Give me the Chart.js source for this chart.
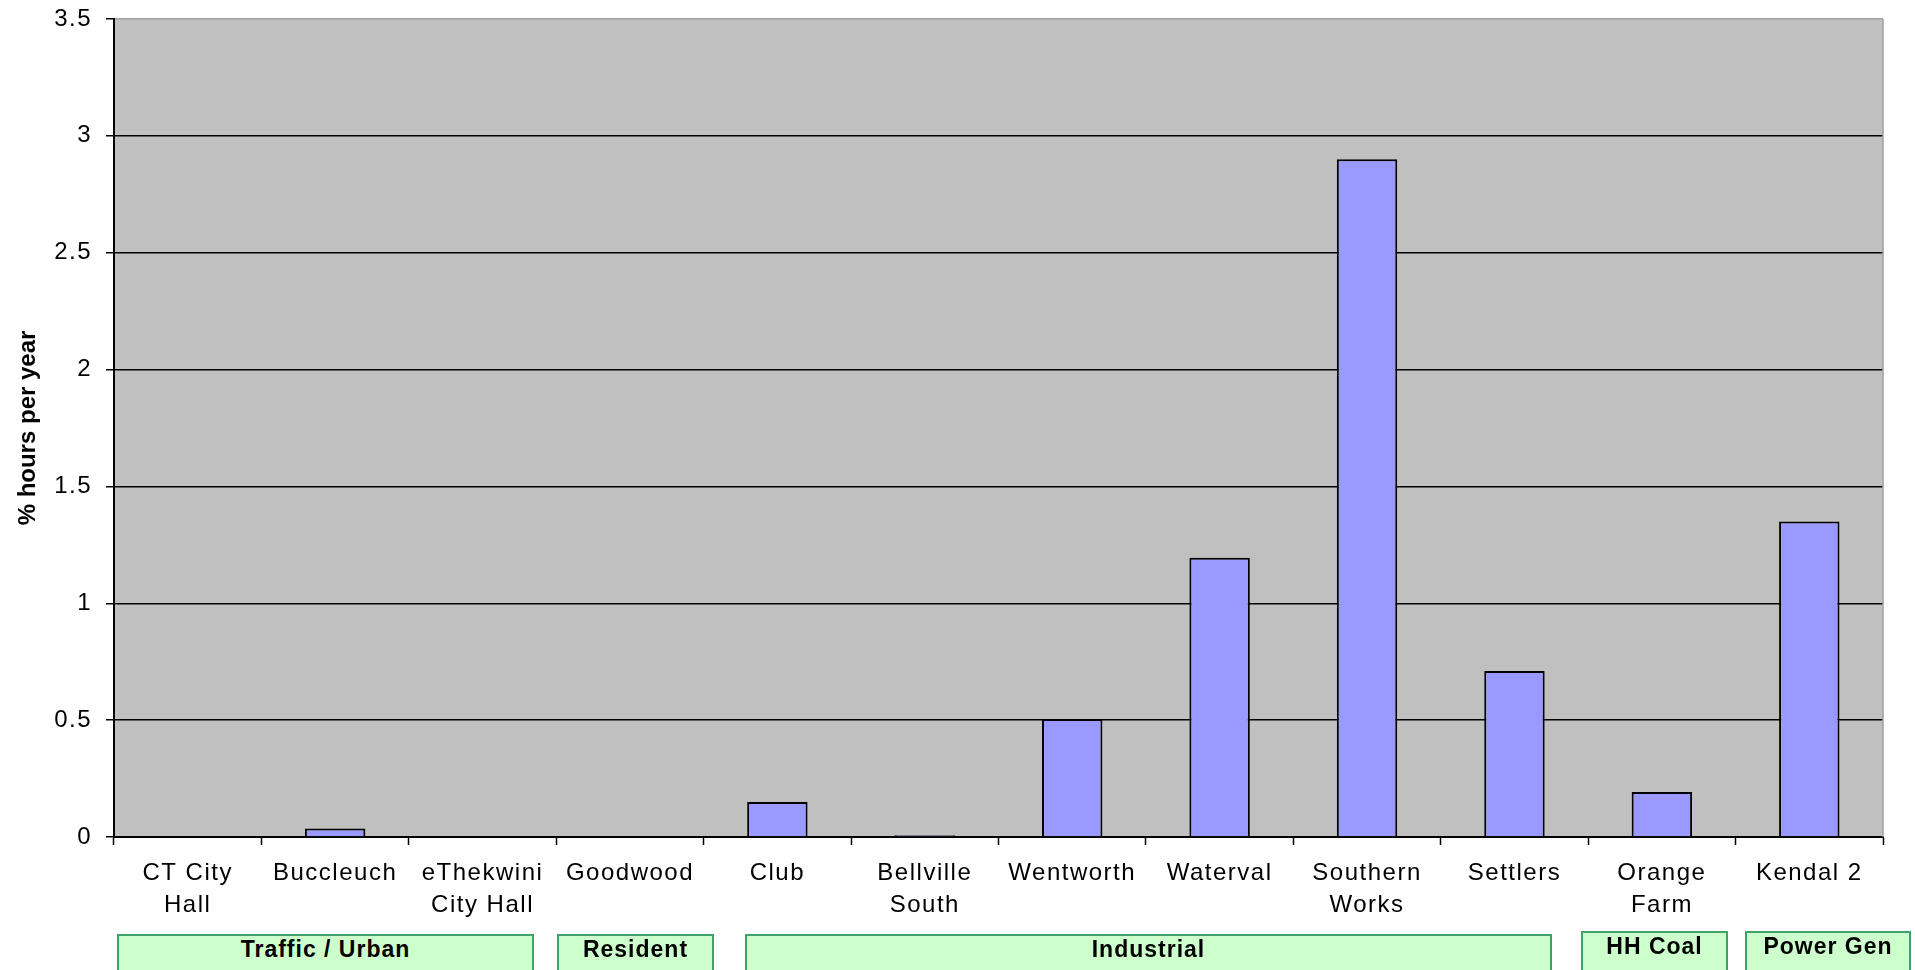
<!DOCTYPE html>
<html><head><meta charset="utf-8">
<script src="https://cdn.jsdelivr.net/npm/chart.js@4"></script>
<style>
html,body{margin:0;padding:0;background:#fff;overflow:hidden}
#wrap{position:relative;width:1915px;height:970px}
canvas{position:absolute;left:0;top:0}
.grp{position:absolute;box-sizing:border-box;background:#CCFFCC;border:2px solid #3FA36B;font:bold 23px "Liberation Sans",Arial,sans-serif;color:#000;text-align:center;line-height:26px;height:70px;letter-spacing:1px;white-space:nowrap}
</style></head><body>
<div id="wrap">
<canvas id="c" width="1915" height="970"></canvas>
<div class="grp" style="left:117px;top:934px;width:417px">Traffic / Urban</div>
<div class="grp" style="left:557px;top:934px;width:157px">Resident</div>
<div class="grp" style="left:745px;top:934px;width:807px">Industrial</div>
<div class="grp" style="left:1581px;top:931px;width:147px">HH Coal</div>
<div class="grp" style="left:1745px;top:931px;width:166px">Power Gen</div>
</div>
<script>
const categories = [
  ['CT City','Hall'], 'Buccleuch', ['eThekwini','City Hall'], 'Goodwood', 'Club',
  ['Bellville','South'], 'Wentworth', 'Waterval', ['Southern','Works'], 'Settlers',
  ['Orange','Farm'], 'Kendal 2'
];
const values = [0, 0.036, 0, 0, 0.15, 0.008, 0.505, 1.195, 2.9, 0.71, 0.193, 1.35];
const yMin = 0, yMax = 3.5, yStep = 0.5;
const yTitle = '% hours per year';

Chart.defaults.font.family = '"Liberation Sans", Arial, sans-serif';
Chart.defaults.color = '#000';

const plotBg = {
  id: 'plotBg',
  beforeUpdate(chart) { chart.ctx.letterSpacing = '1.5px'; },
  beforeDraw(chart) {
    const {ctx, chartArea: a} = chart;
    ctx.letterSpacing = '1.5px';
    ctx.save();
    ctx.fillStyle = '#C0C0C0';
    ctx.fillRect(a.left, a.top, a.right - a.left, a.bottom - a.top);
    ctx.restore();
  },
  afterDraw(chart) {
    const {ctx, chartArea: a} = chart;
    ctx.save();
    ctx.strokeStyle = '#A0A0A0';
    ctx.lineWidth = 1.5;
    ctx.beginPath();
    ctx.moveTo(a.right, a.top);
    ctx.lineTo(a.right, a.bottom);
    ctx.stroke();
    // y-axis title
    ctx.letterSpacing = '0px';
    ctx.translate(28, (a.top + a.bottom) / 2);
    ctx.rotate(-Math.PI / 2);
    ctx.font = 'bold 24px "Liberation Sans", Arial, sans-serif';
    ctx.fillStyle = '#000';
    ctx.textAlign = 'center';
    ctx.textBaseline = 'middle';
    ctx.fillText(yTitle, 0, 0);
    ctx.restore();
  }
};

new Chart(document.getElementById('c'), {
  type: 'bar',
  data: {
    labels: categories,
    datasets: [{
      data: values,
      backgroundColor: '#9999FF',
      borderColor: '#000',
      borderWidth: 2,
      barPercentage: 0.41,
      categoryPercentage: 1
    }]
  },
  options: {
    responsive: false,
    animation: false,
    devicePixelRatio: 1,
    layout: {padding: {top: 19, right: 32, left: 0, bottom: 0}},
    plugins: {legend: {display: false}, tooltip: {enabled: false}},
    scales: {
      x: {
        offset: true,
        grid: {display: true, drawOnChartArea: false, drawTicks: true, tickLength: 8, tickColor: '#000', tickWidth: 1.5, offset: true},
        border: {display: true, color: '#000', width: 2},
        ticks: {color: '#000', font: {size: 24, lineHeight: '32px'}, padding: 12, maxRotation: 0, autoSkip: false},
        afterFit(s) { s.height = 133; s.paddingLeft = 0; s.paddingRight = 0; }
      },
      y: {
        min: yMin, max: yMax,
        ticks: {stepSize: yStep, color: '#000', font: {size: 24}, padding: 14, callback: v => String(v)},
        grid: {color: c => (c.tick && c.tick.value === yMax) ? '#A0A0A0' : '#000', lineWidth: 1.5, tickLength: 8, tickColor: '#000'},
        border: {color: '#000', width: 2},
        afterFit(s) { s.width = 114; s.paddingTop = 0; s.paddingBottom = 0; }
      }
    }
  },
  plugins: [plotBg]
});
</script>
</body></html>
